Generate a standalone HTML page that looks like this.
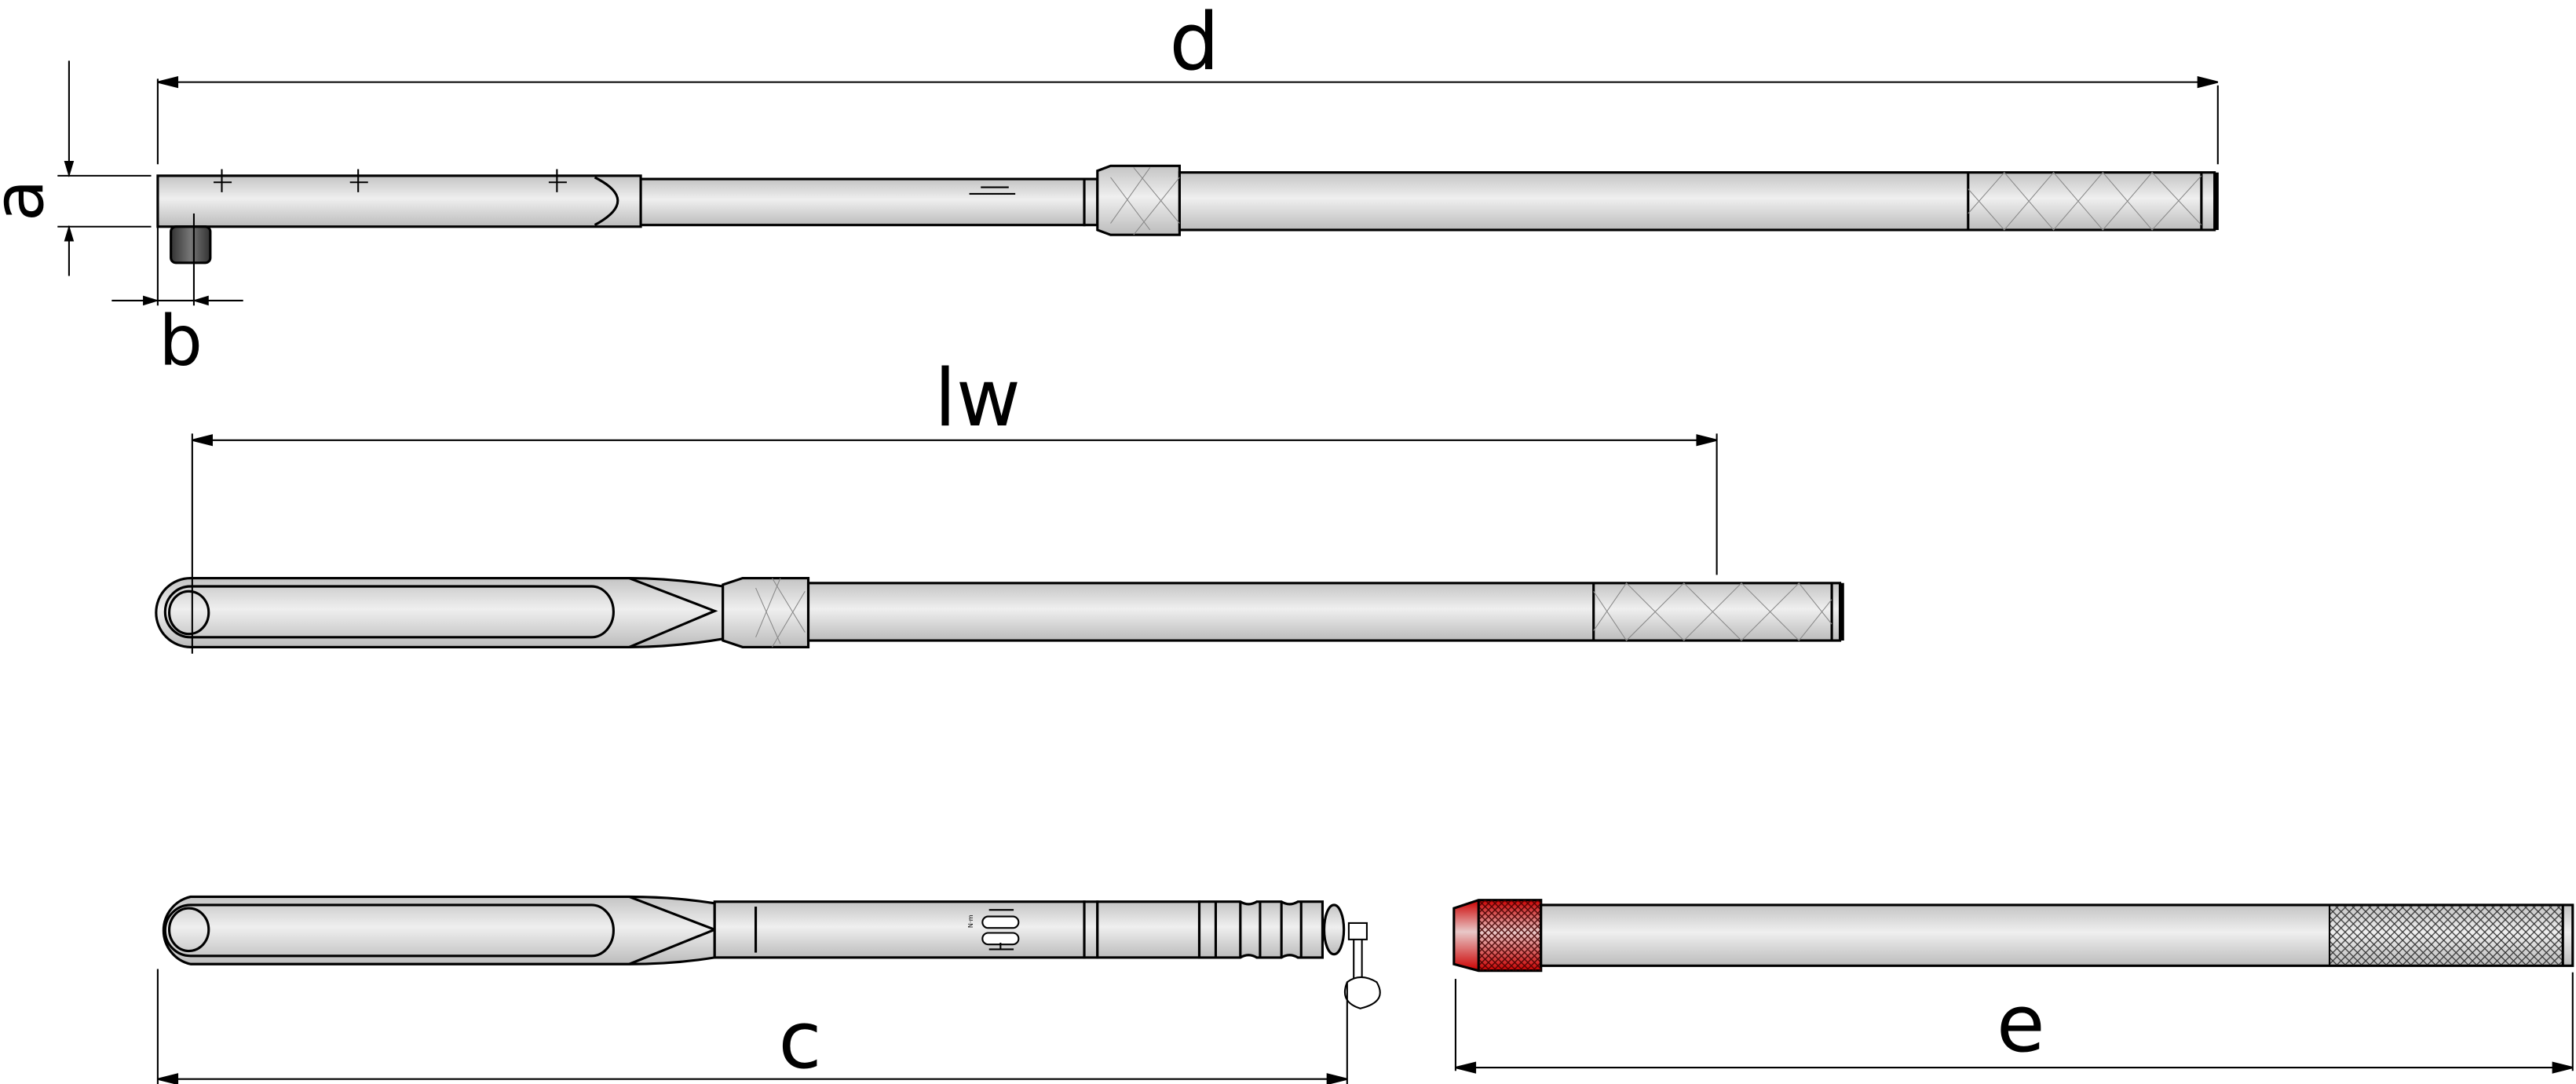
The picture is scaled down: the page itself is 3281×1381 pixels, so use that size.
<!DOCTYPE html>
<html><head><meta charset="utf-8"><style>
html,body{margin:0;padding:0;background:#fff;}
svg{display:block;}
text{font-family:"DejaVu Sans","Liberation Sans",sans-serif;fill:#000;}
</style></head><body>
<svg width="3281" height="1381" viewBox="0 0 1568 660" xmlns="http://www.w3.org/2000/svg">
<defs>
<linearGradient id="g" x1="0" y1="0" x2="0" y2="1">
<stop offset="0" stop-color="#c4c4c4"/><stop offset="0.45" stop-color="#efefef"/><stop offset="1" stop-color="#bcbcbc"/>
</linearGradient>
<linearGradient id="r" x1="0" y1="0" x2="0" y2="1">
<stop offset="0" stop-color="#c00"/><stop offset="0.45" stop-color="#e8c8c8"/><stop offset="1" stop-color="#c00"/>
</linearGradient>
<linearGradient id="dk" x1="0" y1="0" x2="1" y2="0">
<stop offset="0" stop-color="#333"/><stop offset="0.5" stop-color="#777"/><stop offset="1" stop-color="#333"/>
</linearGradient>
<pattern id="kn" width="5" height="5" patternUnits="userSpaceOnUse">
<path d="M0 0L5 5M5 0L0 5" stroke="#333" stroke-width="0.6"/>
</pattern>
<pattern id="knr" width="4" height="4" patternUnits="userSpaceOnUse">
<path d="M0 0L4 4M4 0L0 4" stroke="#400" stroke-width="0.7"/>
</pattern>
<marker id="a" markerWidth="10" markerHeight="8" refX="9" refY="4" orient="auto" markerUnits="userSpaceOnUse">
<path d="M0 1L10 4L0 7Z" fill="#000"/>
</marker>
</defs>
<g stroke="#000" stroke-width="1.5" fill="url(#g)">
<rect x="96" y="107" width="294" height="31"/>
<path d="M362 108Q390 122 362 137" fill="none"/>
<rect x="390" y="109" width="270" height="28"/>
<rect x="660" y="109" width="8" height="28"/>
<path d="M668 104L676 101L718 101L718 143L676 143L668 140Z"/>
<rect x="718" y="105" width="630" height="35"/>
<line x1="1198" y1="105" x2="1198" y2="140"/>
<line x1="1340" y1="105" x2="1340" y2="140"/>
<line x1="1349" y1="105" x2="1349" y2="140" stroke-width="3"/>
<rect x="104" y="138" width="24" height="22" rx="3" fill="url(#dk)"/>
</g>
<g stroke="#888" stroke-width="0.5" fill="none">
<path d="M1198 130L1220 105L1250 140L1280 105L1310 140L1340 107M1198 115L1220 140L1250 105L1280 140L1310 105L1340 137"/>
<path d="M676 108L700 140M690 102L718 136M676 136L700 102M690 143L718 108"/>
</g>
<g stroke="#000" stroke-width="1">
<path d="M135 103V117M130 111H141M218 103V117M213 111H224M339 103V117M334 111H345M590 118H618M597 114H614"/>
</g>
<!-- MIDDLE WRENCH -->
<g stroke="#000" stroke-width="1.5" fill="url(#g)">
<path d="M116 352H383Q410 352 440 357V389Q410 394 383 394H116A21 21 0 0 1 116 352Z"/>
<path d="M383 352L435 372L383 394" fill="none"/>
<path d="M116 357H360A13 15 0 0 1 360 388H116A15 15 0 0 1 116 357Z" fill="none"/>
<ellipse cx="115" cy="373" rx="12" ry="13" fill="none"/>
<path d="M440 356L452 352H492V394H452L440 390Z"/>
<rect x="492" y="355" width="628" height="35"/>
<line x1="970" y1="355" x2="970" y2="390"/>
<line x1="1115" y1="355" x2="1115" y2="390"/>
<line x1="1121" y1="355" x2="1121" y2="390" stroke-width="3"/>
</g>
<g stroke="#888" stroke-width="0.5" fill="none">
<path d="M970 384L990 355L1025 390L1060 355L1095 390L1115 365M970 360L990 390L1025 355L1060 390L1095 355L1115 380"/>
<path d="M460 358L475 392M470 352L490 385M460 388L475 352M470 394L490 360"/>
</g>
<!-- BOTTOM LEFT WRENCH -->
<g stroke="#000" stroke-width="1.5" fill="url(#g)">
<path d="M116 546H383Q410 546 435 550V583Q410 587 383 587H116A21 21 0 0 1 116 546Z"/>
<path d="M383 546L435 566L383 587" fill="none"/>
<path d="M116 551H360A13 15 0 0 1 360 582H116A15 15 0 0 1 116 551Z" fill="none"/>
<ellipse cx="115" cy="566" rx="12" ry="13" fill="none"/>
<rect x="435" y="549" width="225" height="34"/>
<line x1="460" y1="552" x2="460" y2="580"/>
<rect x="660" y="549" width="8" height="34"/>
<rect x="668" y="549" width="62" height="34"/>
<path d="M730 549H755Q760 552 765 549H780Q785 552 790 549H805V583H790Q785 580 780 583H765Q760 580 755 583H730Z"/>
<line x1="740" y1="549" x2="740" y2="583"/><line x1="755" y1="549" x2="755" y2="583"/><line x1="767" y1="549" x2="767" y2="583"/><line x1="780" y1="549" x2="780" y2="583"/><line x1="792" y1="549" x2="792" y2="583"/>
<ellipse cx="812" cy="566" rx="6" ry="15"/>
<rect x="821" y="562" width="11" height="10" fill="#fff" stroke-width="1"/>
<line x1="824" y1="572" x2="824" y2="598" stroke-width="1"/><line x1="829" y1="572" x2="829" y2="598" stroke-width="1"/>
<path d="M820 598Q828 592 838 598Q845 610 828 614Q815 610 820 598Z" fill="#fff" stroke-width="1"/>
<rect x="598" y="558" width="22" height="7" rx="3.5" fill="#fff" stroke-width="1"/>
<rect x="598" y="568" width="22" height="7" rx="3.5" fill="#fff" stroke-width="1"/>
<path d="M602 554H617M602 578H617M609 574V578" stroke-width="1"/>
</g>
<text x="592" y="565" font-size="4" transform="rotate(-90 592 565)">N·m</text>
<!-- BOTTOM RIGHT -->
<g stroke="#000" stroke-width="1.5">
<path d="M885 553L900 548H938V591H900L885 587Z" fill="url(#r)"/>
<rect x="900" y="548" width="38" height="43" fill="url(#knr)" stroke="none" opacity="0.9"/>
<line x1="900" y1="548" x2="900" y2="591"/>
<rect x="938" y="551" width="628" height="37" fill="url(#g)"/>
<rect x="1418" y="551" width="142" height="37" fill="url(#kn)" stroke-width="1"/>
<line x1="1560" y1="551" x2="1560" y2="588"/>
</g>
<!-- DIMENSIONS -->
<g stroke="#000" stroke-width="1" fill="none">
<line x1="96" y1="48" x2="96" y2="100"/><line x1="1350" y1="52" x2="1350" y2="100"/>
<line x1="106" y1="50" x2="1340" y2="50"/>
<path d="M96 50L108 47V53Z M1350 50L1338 47V53Z" fill="#000"/>
<line x1="35" y1="107" x2="92" y2="107"/><line x1="35" y1="138" x2="92" y2="138"/>
<line x1="42" y1="37" x2="42" y2="107" marker-end="url(#a)"/>
<line x1="42" y1="168" x2="42" y2="138" marker-end="url(#a)"/>
<line x1="96" y1="110" x2="96" y2="186"/><line x1="118" y1="130" x2="118" y2="186"/>
<line x1="68" y1="183" x2="96" y2="183" marker-end="url(#a)"/>
<line x1="148" y1="183" x2="118" y2="183" marker-end="url(#a)"/>
<line x1="96" y1="183" x2="118" y2="183"/>
<line x1="117" y1="264" x2="117" y2="398"/><line x1="1045" y1="264" x2="1045" y2="350"/>
<line x1="127" y1="268" x2="1035" y2="268"/>
<path d="M117 268L129 265V271Z M1045 268L1033 265V271Z" fill="#000"/>
<line x1="96" y1="590" x2="96" y2="660"/><line x1="820" y1="598" x2="820" y2="660"/>
<line x1="106" y1="657" x2="810" y2="657"/>
<path d="M96 657L108 654V660Z M820 657L808 654V660Z" fill="#000"/>
<line x1="886" y1="596" x2="886" y2="652"/><line x1="1566" y1="592" x2="1566" y2="652"/>
<line x1="896" y1="650" x2="1556" y2="650"/>
<path d="M886 650L898 647V653Z M1566 650L1554 647V653Z" fill="#000"/>
</g>
<text x="727" y="42" font-size="48" text-anchor="middle">d</text>
<text x="595" y="259" font-size="48" text-anchor="middle">lw</text>
<text x="487" y="650" font-size="48" text-anchor="middle">c</text>
<text x="1230" y="640" font-size="48" text-anchor="middle">e</text>
<text x="110" y="222" font-size="42" text-anchor="middle">b</text>
<text x="26" y="122" font-size="42" text-anchor="middle" transform="rotate(-90 26 122)">a</text>
</svg>
</body></html>
